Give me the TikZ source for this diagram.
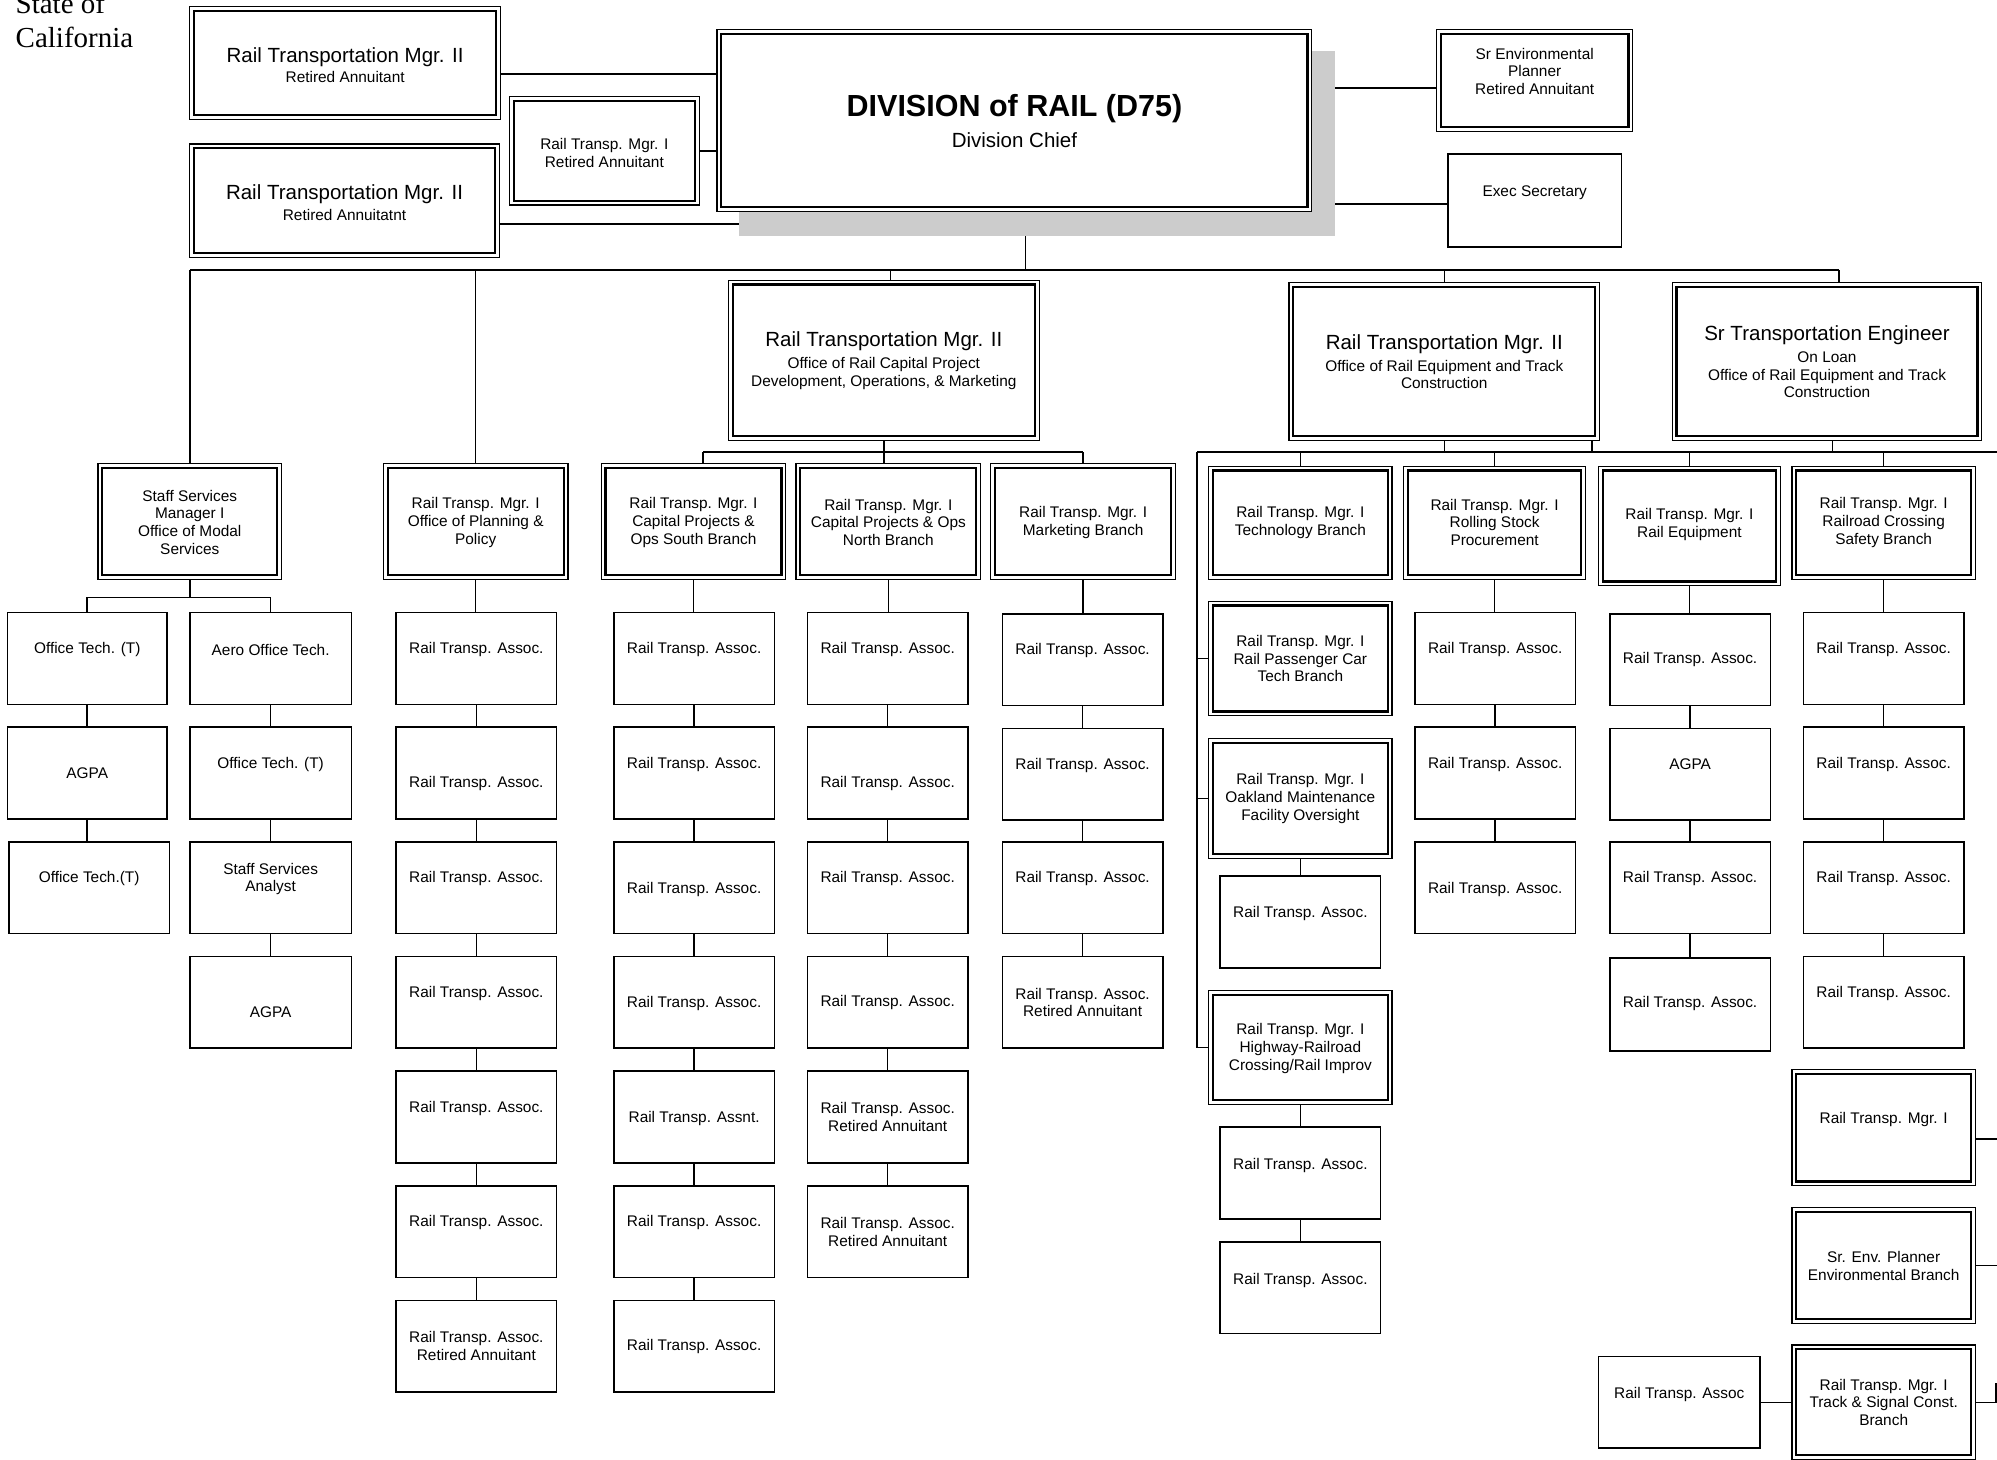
\documentclass[tikz,border=0pt]{standalone}
\usepackage{fontspec}
\setmainfont{Liberation Sans}
\newfontfamily\seriffont{Liberation Serif}
\pgfdeclarelayer{bg}
\pgfdeclarelayer{sh}
\pgfsetlayers{bg,sh,main}
\definecolor{shgray}{HTML}{CCCCCC}
\newcommand\fN{\fontsize{7.7}{8.9}\selectfont}
\newcommand\fB{\fontsize{10.25}{11.5}\selectfont}
\newcommand\fT{\fontsize{15.25}{17}\selectfont\bfseries}
\newcommand\serifT{\seriffont\fontsize{14.5}{17}\selectfont}
% single box: name, x1, y1, x2, y2, text-y, text
\newcommand\ocS[7]{%
  \node[sbx, minimum width={(#4-#2)*0.6368pt}, minimum height={(#5-#3)*0.6368pt}] (#1) at ({(#2+#4)/2},{(#3+#5)/2}) {};
  \node[txt] (#1-t) at ({(#2+#4)/2},#6) {#7};}
% double box
\newcommand\ocD[7]{%
  \draw[outerline] (#2,#3) rectangle (#4,#5);
  \node[dbx, minimum width={(#4-#2)*0.6368pt-4.33pt}, minimum height={(#5-#3)*0.6368pt-4.33pt}] (#1) at ({(#2+#4)/2},{(#3+#5)/2}) {};
  \node[txt] (#1-t) at ({(#2+#4)/2},#6) {#7};}
\begin{document}
\begin{tikzpicture}[x=0.6368pt, y=-0.6368pt,
  sbx/.style={draw, line width=0.8pt, fill=white, inner sep=0pt},
  dbx/.style={draw, line width=1.1pt, fill=white, inner sep=0pt, outer sep=2.165pt},
  outerline/.style={draw, line width=0.6pt, fill=white},
  txt/.style={align=center, font=\fN, inner sep=0pt, yshift=-0.7pt},
  conn/.style={line width=0.75pt},
  sttl/.style={anchor=base west, inner sep=0pt, font=\serifT}]
\useasboundingbox (0,0) rectangle (1568,1146);

% title
\node[sttl] (st1) at (12,10.3) {State of};
\node[sttl] (st2) at (12,37) {California};

% top level
\ocD{A1}{149}{5}{393}{94}{50}{{\fB Rail Transportation Mgr. II}\\[1.5pt]Retired Annuitant}
\ocD{A2}{149}{113}{392}{202}{158}{{\fB Rail Transportation Mgr. II}\\[1.5pt]Retired Annuitatnt}
\ocD{A3}{400}{76}{549}{161}{119}{Rail Transp. Mgr. I\\Retired Annuitant}
\draw[outerline] (563,23) rectangle (1030,166);
\node[dbx, minimum width={467*0.6368pt-4.33pt}, minimum height={143*0.6368pt-4.33pt}] (DIV) at (796.5,94.5) {};
\node[txt, font=\fB] (DIV-t) at (796.5,94) {{\fT DIVISION of RAIL (D75)}\\[3.8pt]Division Chief};
\ocD{SEP}{1128}{23}{1282}{103}{55}{Sr Environmental\\Planner\\Retired Annuitant}
\ocS{EXS}{1137}{121}{1273}{194}{150}{Exec Secretary}

% level 2
\ocD{CAP}{572}{220}{816}{346}{282}{{\fB Rail Transportation Mgr. II}\\[2pt]Office of Rail Capital Project\\Development, Operations, \& Marketing}
\ocD{EQ}{1012}{222}{1256}{346}{283}{{\fB Rail Transportation Mgr. II}\\[2pt]Office of Rail Equipment and Track\\Construction}
\ocD{STE}{1313}{222}{1556}{346}{283}{{\fB Sr Transportation Engineer}\\[2pt]On Loan\\Office of Rail Equipment and Track\\Construction}

% level 3 managers
\ocD{SS}{77}{364}{221}{455}{409}{Staff Services\\Manager I\\Office of Modal\\Services}
\ocD{PL}{301}{364}{446}{455}{409}{Rail Transp. Mgr. I\\Office of Planning \&\\Policy}
\ocD{CS}{472}{364}{617}{455}{409}{Rail Transp. Mgr. I\\Capital Projects \&\\Ops South Branch}
\ocD{CN}{625}{364}{770}{455}{409}{Rail Transp. Mgr. I\\Capital Projects \& Ops\\North Branch}
\ocD{MK}{778}{364}{923}{455}{409}{Rail Transp. Mgr. I\\Marketing Branch}
\ocD{TB}{949}{366}{1093}{455}{409}{Rail Transp. Mgr. I\\Technology Branch}
\ocD{RS}{1102}{366}{1245}{455}{409}{Rail Transp. Mgr. I\\Rolling Stock\\Procurement}
\ocD{RE}{1255}{366}{1398}{460}{411}{Rail Transp. Mgr. I\\Rail Equipment}
\ocD{RX}{1407}{366}{1551}{455}{409}{Rail Transp. Mgr. I\\Railroad Crossing\\Safety Branch}

% staff services column
\ocS{SL1}{6}{481}{131}{553}{509}{Office Tech. (T)}
\ocS{SL2}{6}{571}{131}{643}{606}{AGPA}
\ocS{SL3}{7}{661}{133}{733}{689}{Office Tech.(T)}
\ocS{SR1}{149}{481}{276}{553}{509}{Aero Office Tech.}
\ocS{SR2}{149}{571}{276}{643}{599}{Office Tech. (T)}
\ocS{SR3}{149}{661}{276}{733}{689}{Staff Services\\Analyst}
\ocS{SR4}{149}{751}{276}{823}{794}{AGPA}

% planning column
\ocS{P1}{311}{481}{437}{553}{509}{Rail Transp. Assoc.}
\ocS{P2}{311}{571}{437}{643}{614}{Rail Transp. Assoc.}
\ocS{P3}{311}{661}{437}{733}{689}{Rail Transp. Assoc.}
\ocS{P4}{311}{751}{437}{823}{779}{Rail Transp. Assoc.}
\ocS{P5}{311}{841}{437}{913}{869}{Rail Transp. Assoc.}
\ocS{P6}{311}{931}{437}{1003}{959}{Rail Transp. Assoc.}
\ocS{P7}{311}{1021}{437}{1093}{1056}{Rail Transp. Assoc.\\Retired Annuitant}

% south column
\ocS{S1}{482}{481}{608}{553}{509}{Rail Transp. Assoc.}
\ocS{S2}{482}{571}{608}{643}{599}{Rail Transp. Assoc.}
\ocS{S3}{482}{661}{608}{733}{697}{Rail Transp. Assoc.}
\ocS{S4}{482}{751}{608}{823}{787}{Rail Transp. Assoc.}
\ocS{S5}{482}{841}{608}{913}{877}{Rail Transp. Assnt.}
\ocS{S6}{482}{931}{608}{1003}{959}{Rail Transp. Assoc.}
\ocS{S7}{482}{1021}{608}{1093}{1056}{Rail Transp. Assoc.}

% north column
\ocS{N1}{634}{481}{760}{553}{509}{Rail Transp. Assoc.}
\ocS{N2}{634}{571}{760}{643}{614}{Rail Transp. Assoc.}
\ocS{N3}{634}{661}{760}{733}{689}{Rail Transp. Assoc.}
\ocS{N4}{634}{751}{760}{823}{786}{Rail Transp. Assoc.}
\ocS{N5}{634}{841}{760}{913}{876}{Rail Transp. Assoc.\\Retired Annuitant}
\ocS{N6}{634}{931}{760}{1003}{966}{Rail Transp. Assoc.\\Retired Annuitant}

% marketing column
\ocS{M1}{787}{482}{913}{554}{510}{Rail Transp. Assoc.}
\ocS{M2}{787}{572}{913}{644}{600}{Rail Transp. Assoc.}
\ocS{M3}{787}{661}{913}{733}{689}{Rail Transp. Assoc.}
\ocS{M4}{787}{751}{913}{823}{786}{Rail Transp. Assoc.\\Retired Annuitant}

% technology column
\ocD{PC}{949}{472}{1093}{562}{516}{Rail Transp. Mgr. I\\Rail Passenger Car\\Tech Branch}
\ocD{OK}{949}{580}{1093}{674}{626}{Rail Transp. Mgr. I\\Oakland Maintenance\\Facility Oversight}
\ocS{OC}{958}{688}{1084}{760}{716}{Rail Transp. Assoc.}
\ocD{HW}{949}{778}{1093}{867}{822}{Rail Transp. Mgr. I\\Highway-Railroad\\Crossing/Rail Improv}
\ocS{H1}{958}{885}{1084}{957}{914}{Rail Transp. Assoc.}
\ocS{H2}{958}{975}{1084}{1047}{1004}{Rail Transp. Assoc.}

% rolling stock column
\ocS{RSa}{1111}{481}{1237}{553}{509}{Rail Transp. Assoc.}
\ocS{RSb}{1111}{571}{1237}{643}{599}{Rail Transp. Assoc.}
\ocS{RSc}{1111}{661}{1237}{733}{697}{Rail Transp. Assoc.}

% rail equipment column
\ocS{E1}{1264}{482}{1390}{554}{517}{Rail Transp. Assoc.}
\ocS{E2}{1264}{572}{1390}{644}{599}{AGPA}
\ocS{E3}{1264}{661}{1390}{733}{689}{Rail Transp. Assoc.}
\ocS{E4}{1264}{752}{1390}{825}{787}{Rail Transp. Assoc.}

% railroad crossing column
\ocS{X1}{1416}{481}{1542}{553}{509}{Rail Transp. Assoc.}
\ocS{X2}{1416}{571}{1542}{643}{599}{Rail Transp. Assoc.}
\ocS{X3}{1416}{661}{1542}{733}{689}{Rail Transp. Assoc.}
\ocS{X4}{1416}{751}{1542}{823}{779}{Rail Transp. Assoc.}

% right edge group
\ocD{RM}{1407}{840}{1551}{931}{878}{Rail Transp. Mgr. I}
\ocD{SE2}{1407}{948}{1551}{1039}{993}{Sr. Env. Planner\\Environmental Branch}
\ocD{TS}{1407}{1056}{1551}{1146}{1100}{Rail Transp. Mgr. I\\Track \& Signal Const.\\Branch}
\ocS{RTA}{1255}{1065}{1382}{1137}{1094}{Rail Transp. Assoc}

% shadow of the division box
\begin{pgfonlayer}{sh}
\fill[shgray] (580,40) rectangle (1048,185);
\end{pgfonlayer}

% connectors
\begin{pgfonlayer}{bg}
\fill[white] (0,0) rectangle (1568,1146);
\coordinate (yA1) at (0,58);
\coordinate (yA2) at (0,176);
\coordinate (ySEP) at (0,69);
\coordinate (yEXS) at (0,160);
\coordinate (yB1) at (0,212);
\coordinate (yB2) at (0,355);
\coordinate (ySS) at (0,469);
\coordinate (yRM) at (0,894.5);
\coordinate (xDIV) at (805,0);
\coordinate (xCAP) at (699,0);
\coordinate (xSTE) at (1444,0);
\coordinate (xCS) at (552,0);
\coordinate (xL) at (940,0);
\coordinate (xEQ2) at (1250,0);
\coordinate (xSTE2) at (1439,0);
\coordinate (xE) at (1568,0);
\coordinate (eV) at (1567,1086);

\draw[conn] (A1.east |- yA1) -- (DIV.west |- yA1);
\draw[conn] (A2.east |- yA2) -- (DIV.center |- yA2);
\draw[conn] (A3.east) -- (A3.east -| DIV.west);
\draw[conn] (SEP.west |- ySEP) -- (DIV.east |- ySEP);
\draw[conn] (EXS.west |- yEXS) -- (DIV.east |- yEXS);

\draw[conn] (xDIV |- DIV.south) -- (xDIV |- yB1);
\draw[conn] (SS.north |- yB1) -- (xSTE |- yB1);
\draw[conn] (SS.north |- yB1) -- (SS.north);
\draw[conn] (PL.north |- yB1) -- (PL.north);
\draw[conn] (xCAP |- yB1) -- (xCAP |- CAP.north);
\draw[conn] (EQ.north |- yB1) -- (EQ.north);
\draw[conn] (xSTE |- yB1) -- (xSTE |- STE.north);

% capital office branches
\draw[conn] (CAP.south) -- (CAP.south |- yB2);
\draw[conn] (xCS |- yB2) -- (MK.north |- yB2);
\draw[conn] (xCS |- yB2) -- (xCS |- CS.north);
\draw[conn] (CAP.south |- yB2) -- (CAP.south |- CN.north);
\draw[conn] (MK.north |- yB2) -- (MK.north);

% equipment office branches
\draw[conn] (xL |- yB2) -- (xE |- yB2);
\draw[conn] (EQ.south) -- (EQ.south |- yB2);
\draw[conn] (xEQ2 |- EQ.south) -- (xEQ2 |- yB2);
\draw[conn] (xSTE2 |- STE.south) -- (xSTE2 |- yB2);
\draw[conn] (TB.north |- yB2) -- (TB.north);
\draw[conn] (RS.north |- yB2) -- (RS.north);
\draw[conn] (RE.north |- yB2) -- (RE.north);
\draw[conn] (RX.north |- yB2) -- (RX.north);
\draw[conn] (xL |- yB2) -- (xL |- HW.west) -- (HW.west);
\draw[conn] (xL |- PC.west) -- (PC.west);
\draw[conn] (xL |- OK.west) -- (OK.west);
\draw[conn] (OK.south) -- (OK.south |- OC.north);
\draw[conn] (HW.south) -- (HW.south |- H1.north);
\draw[conn] (H1.south) -- (H1.south |- H2.north);

% staff services
\draw[conn] (SS.south) -- (SS.south |- ySS);
\draw[conn] (SL1.north |- ySS) -- (SR1.north |- ySS);
\draw[conn] (SL1.north |- ySS) -- (SL1.north);
\draw[conn] (SR1.north |- ySS) -- (SR1.north);
\draw[conn] (SL1.south) -- (SL1.south |- SL2.north);
\draw[conn] (SL2.south) -- (SL2.south |- SL3.north);
\draw[conn] (SR1.south) -- (SR1.south |- SR2.north);
\draw[conn] (SR2.south) -- (SR2.south |- SR3.north);
\draw[conn] (SR3.south) -- (SR3.south |- SR4.north);

% chains
\foreach \a/\b in {PL/P1,P1/P2,P2/P3,P3/P4,P4/P5,P5/P6,P6/P7,
                   CS/S1,S1/S2,S2/S3,S3/S4,S4/S5,S5/S6,S6/S7,
                   CN/N1,N1/N2,N2/N3,N3/N4,N4/N5,N5/N6,
                   MK/M1,M1/M2,M2/M3,M3/M4,
                   RS/RSa,RSa/RSb,RSb/RSc,
                   RE/E1,E1/E2,E2/E3,E3/E4,
                   RX/X1,X1/X2,X2/X3,X3/X4}
  \draw[conn] (\a.south) -- (\a.south |- \b.north);

% right edge group
\draw[conn] (RM.east |- yRM) -- (xE |- yRM);
\draw[conn] (SE2.east) -- (SE2.east -| xE);
\draw[conn] (TS.east) -- (TS.east -| xE);
\draw[conn] (RTA.east) -- (RTA.east -| TS.west);
\draw[conn] (eV) -- (eV |- TS.east);
\end{pgfonlayer}
\end{tikzpicture}
\end{document}
